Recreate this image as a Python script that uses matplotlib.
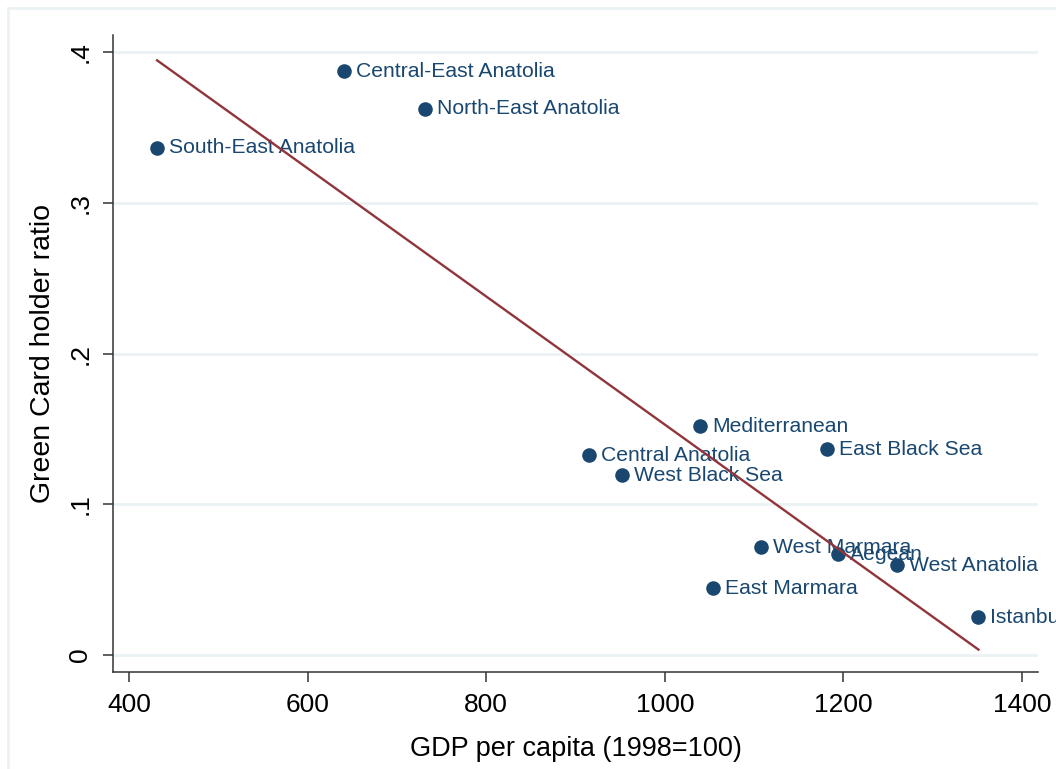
import numpy as np
import matplotlib
matplotlib.use('Agg')
import matplotlib.pyplot as plt
from matplotlib.lines import Line2D

plt.rcParams['font.family'] = ['Liberation Sans', 'DejaVu Sans']

regions = ['Central-East Anatolia', 'North-East Anatolia', 'South-East Anatolia',
           'Mediterranean', 'East Black Sea', 'Central Anatolia', 'West Black Sea',
           'West Marmara', 'Aegean', 'West Anatolia', 'East Marmara', 'Istanbul']
gdp = [640.9, 731.7, 431.4, 1039.8, 1182.0, 915.4, 952.4, 1108.0, 1194.0, 1260.5, 1054.0, 1351.3]
green_card = [0.3874, 0.3623, 0.3364, 0.1517, 0.1364, 0.1325, 0.1192, 0.0715, 0.0669, 0.0596, 0.0444, 0.0252]

xticks = [400, 600, 800, 1000, 1200, 1400]
yticks = [0, 0.1, 0.2, 0.3, 0.4]
ytick_labels = ['0', '.1', '.2', '.3', '.4']

navy = '#1a476f'
maroon = '#90353b'
grid_col = '#eaf2f3'

fig = plt.figure(figsize=(10.56, 7.69), dpi=100)
ax = fig.add_axes([0.107, 0.126, 0.876, 0.8285])

# light outer frame
fx, fy = 8 / 1056, 1 - 8 / 769
fig.add_artist(Line2D([fx, 1.0], [fy, fy], color=grid_col, lw=2, transform=fig.transFigure))
fig.add_artist(Line2D([fx, fx], [0, fy], color=grid_col, lw=2, transform=fig.transFigure))

ax.scatter(gdp, green_card, s=110, color=navy, zorder=3, linewidths=0)
for name, x, y in zip(regions, gdp, green_card):
    ax.annotate(name, (x, y), xytext=(8.5, 0), textcoords='offset points',
                va='center', ha='left', fontsize=15.2, color=navy, zorder=4,
                annotation_clip=False)

# linear fit over the data range
slope, intercept = np.polyfit(gdp, green_card, 1)
xs = np.array([min(gdp), max(gdp)])
ax.plot(xs, slope * xs + intercept, color=maroon, lw=1.7, zorder=5)

ax.set_xlim(382, 1418)
ax.set_ylim(-0.0113, 0.4113)
ax.set_xticks(xticks)
ax.set_yticks(yticks)
ax.set_yticklabels(ytick_labels, rotation=90, va='center')
ax.tick_params(axis='both', direction='out', length=7, width=1.1, color='#333333',
               labelsize=19, pad=8)
ax.grid(axis='y', color=grid_col, lw=2)
ax.set_axisbelow(True)
for side in ['top', 'right']:
    ax.spines[side].set_visible(False)
for side in ['left', 'bottom']:
    ax.spines[side].set_color('#333333')
    ax.spines[side].set_linewidth(1.1)

ax.set_xlabel('GDP per capita (1998=100)', fontsize=19.5, labelpad=14)
ax.set_ylabel('Green Card holder ratio', fontsize=20.5, labelpad=9)

fig.savefig('out.png', dpi=100, facecolor='white')
